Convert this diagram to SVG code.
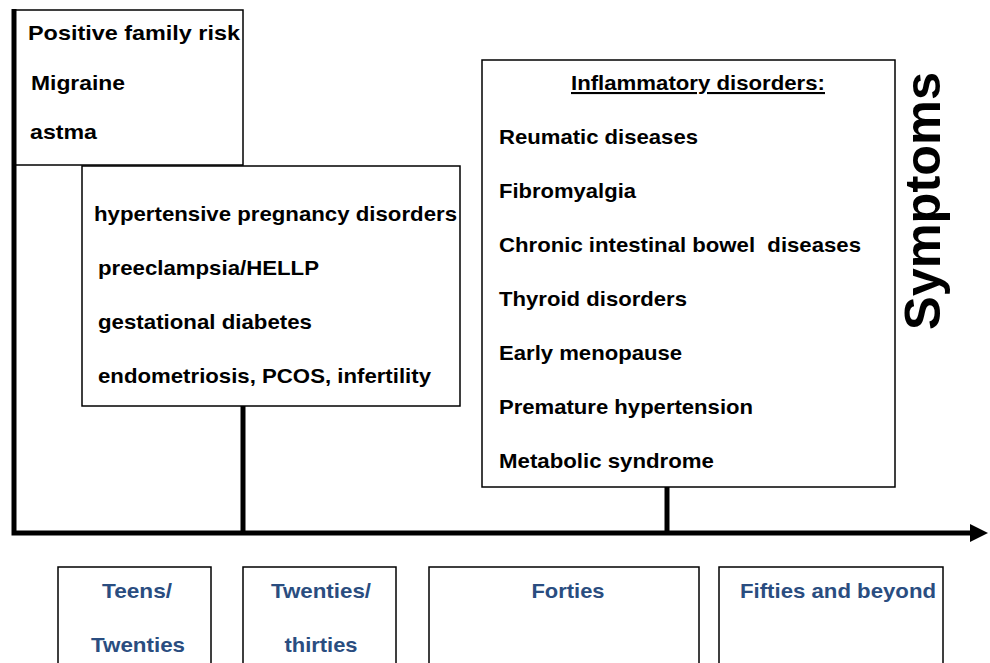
<svg xmlns="http://www.w3.org/2000/svg" width="990" height="663" viewBox="0 0 990 663">
<style>
.box{fill:#fff;stroke:#000;stroke-width:1.5}
.t{font-family:"Liberation Sans",Arial,sans-serif;font-weight:bold;font-size:21px;fill:#000;white-space:pre}
.b{font-family:"Liberation Sans",Arial,sans-serif;font-weight:bold;font-size:21px;fill:#2a4d80;text-anchor:middle}
.ax{stroke:#000;stroke-width:5;fill:none}
</style>
<rect width="990" height="663" fill="#fff"/>
<g id="family">
<rect class="box" x="15" y="10" width="228" height="155"/>
<text class="t" x="28" y="40" textLength="212" lengthAdjust="spacingAndGlyphs">Positive family risk</text>
<text class="t" x="31" y="90" textLength="94" lengthAdjust="spacingAndGlyphs">Migraine</text>
<text class="t" x="30" y="139" textLength="67" lengthAdjust="spacingAndGlyphs">astma</text>
</g>
<g id="pregnancy">
<rect class="box" x="82" y="166" width="378" height="240"/>
<text class="t" x="94" y="221" textLength="363" lengthAdjust="spacingAndGlyphs">hypertensive pregnancy disorders</text>
<text class="t" x="98" y="275" textLength="221" lengthAdjust="spacingAndGlyphs">preeclampsia/HELLP</text>
<text class="t" x="98" y="329" textLength="214" lengthAdjust="spacingAndGlyphs">gestational diabetes</text>
<text class="t" x="98" y="383" textLength="333" lengthAdjust="spacingAndGlyphs">endometriosis, PCOS, infertility</text>
</g>
<g id="inflammatory">
<rect class="box" x="482" y="60" width="413" height="427"/>
<text class="t" x="571" y="90" textLength="254" lengthAdjust="spacingAndGlyphs" text-decoration="underline">Inflammatory disorders:</text>
<text class="t" x="499" y="144" textLength="199" lengthAdjust="spacingAndGlyphs">Reumatic diseases</text>
<text class="t" x="499" y="198" textLength="137" lengthAdjust="spacingAndGlyphs">Fibromyalgia</text>
<text class="t" x="499" y="252" textLength="362" lengthAdjust="spacingAndGlyphs">Chronic intestinal bowel  diseases</text>
<text class="t" x="499" y="306" textLength="188" lengthAdjust="spacingAndGlyphs">Thyroid disorders</text>
<text class="t" x="499" y="360" textLength="183" lengthAdjust="spacingAndGlyphs">Early menopause</text>
<text class="t" x="499" y="414" textLength="254" lengthAdjust="spacingAndGlyphs">Premature hypertension</text>
<text class="t" x="499" y="468" textLength="215" lengthAdjust="spacingAndGlyphs">Metabolic syndrome</text>
</g>
<g id="symptoms">
<text class="t" style="font-size:50px" text-anchor="middle" transform="translate(940,201) rotate(-90)" textLength="258" lengthAdjust="spacingAndGlyphs">Symptoms</text>
</g>
<g id="connectors">
<path class="ax" d="M14,9 V533 H972"/>
<polygon points="970,524 988,533 970,542" fill="#000"/>
<line class="ax" x1="243" y1="406" x2="243" y2="533"/>
<line class="ax" x1="667" y1="487" x2="667" y2="533"/>
</g>
<g id="teens">
<rect class="box" x="58" y="567" width="153" height="110"/>
<text class="b" x="137" y="598" textLength="70" lengthAdjust="spacingAndGlyphs">Teens/</text>
<text class="b" x="138" y="652" textLength="94" lengthAdjust="spacingAndGlyphs">Twenties</text>
</g>
<g id="twenties">
<rect class="box" x="243" y="567" width="153" height="110"/>
<text class="b" x="321" y="598" textLength="100" lengthAdjust="spacingAndGlyphs">Twenties/</text>
<text class="b" x="321" y="652" textLength="73" lengthAdjust="spacingAndGlyphs">thirties</text>
</g>
<g id="forties">
<rect class="box" x="429" y="567" width="270" height="110"/>
<text class="b" x="568" y="598" textLength="73" lengthAdjust="spacingAndGlyphs">Forties</text>
</g>
<g id="fifties">
<rect class="box" x="719" y="567" width="224" height="110"/>
<text class="b" x="838" y="598" textLength="196" lengthAdjust="spacingAndGlyphs">Fifties and beyond</text>
</g>
</svg>
